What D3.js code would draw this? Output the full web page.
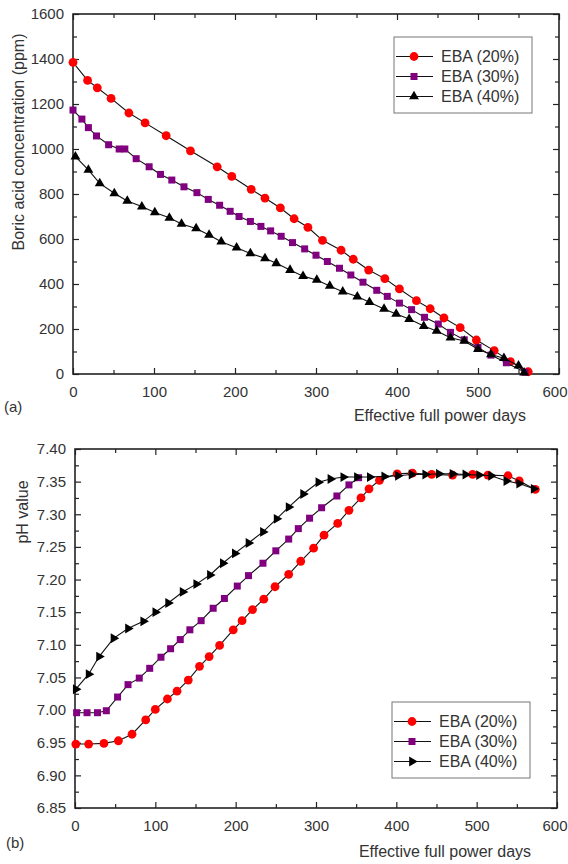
<!DOCTYPE html>
<html>
<head>
<meta charset="utf-8">
<script src="https://cdn.jsdelivr.net/npm/d3@7"></script>
<style>
  body { margin: 0; background: #fff; }
  svg text { font-family: "Liberation Sans", Arial, sans-serif; fill: #333; }
</style>
</head>
<body>
<div id="chart"></div>
<script>
// Panel (a): boric acid concentration vs EFPD
var daysA20 = [0,18,30,47,69,89,115,145,178,196,220,237,256,273,290,308,331,346,365,385,403,424,441,458,478,498,520,540,562];
var boronA20 = [1385,1305,1272,1225,1160,1116,1059,992,921,878,821,782,738,690,652,594,550,510,462,424,378,326,290,249,206,151,104,55,10];
var daysA30 = [0,11,19,29,44,57,64,78,94,108,122,137,153,167,181,194,205,219,232,244,257,271,286,300,314,329,343,358,375,388,403,418,434,451,466,483,500,516,535,558];
var boronA30 = [1173,1133,1095,1058,1019,1000,1000,957,921,887,862,832,806,776,750,723,700,678,656,636,612,584,556,528,500,470,440,408,372,345,315,286,252,222,185,152,118,84,50,8];
var daysA40 = [3,19,33,51,67,85,101,119,134,152,168,183,202,219,237,251,268,284,301,317,333,351,366,384,399,415,433,449,466,483,500,516,532,550,557];
var boronA40 = [966,907,847,803,769,744,718,694,667,647,618,588,561,536,514,492,462,435,418,391,366,344,319,289,267,244,213,191,161,147,110,87,70,37,6];

// Panel (b): pH vs EFPD
var daysB20 = [1,17,36,54,71,88,100,115,127,141,155,167,180,197,208,221,235,249,266,281,297,310,327,341,356,366,379,401,420,444,470,495,514,539,553,573];
var phB20 = [6.948,6.948,6.949,6.953,6.963,6.985,7.001,7.017,7.029,7.046,7.067,7.082,7.099,7.123,7.137,7.154,7.170,7.189,7.208,7.228,7.248,7.268,7.286,7.306,7.325,7.339,7.352,7.362,7.363,7.361,7.360,7.361,7.360,7.359,7.351,7.338];
var daysB30 = [2,15,28,39,53,66,80,93,107,119,131,143,157,172,186,202,216,234,250,266,278,292,307,326,341,353];
var phB30 = [6.996,6.996,6.996,6.999,7.020,7.039,7.049,7.064,7.081,7.094,7.108,7.123,7.137,7.156,7.171,7.190,7.206,7.225,7.244,7.262,7.278,7.294,7.310,7.328,7.345,7.356];
var daysB40 = [1,17,30,48,66,85,100,116,134,151,168,184,199,216,234,251,266,284,303,318,334,351,367,385,402,419,436,453,470,486,503,518,537,553,571];
var phB40 = [7.032,7.055,7.082,7.110,7.125,7.136,7.150,7.164,7.181,7.193,7.207,7.225,7.240,7.256,7.273,7.293,7.311,7.331,7.349,7.354,7.357,7.357,7.357,7.358,7.359,7.361,7.361,7.362,7.362,7.361,7.360,7.359,7.351,7.347,7.339];

var seriesNames = ["EBA (20%)", "EBA (30%)", "EBA (40%)"];
var xTicks = [0,100,200,300,400,500,600];
var yTicksA = [0,200,400,600,800,1000,1200,1400,1600];
var yTicksB = [6.85,6.90,6.95,7.00,7.05,7.10,7.15,7.20,7.25,7.30,7.35,7.40];

var svg = d3.select("#chart").append("svg")
    .attr("width", 568)
    .attr("height", 864);

function marker(g, type, color) {
  if (type == "circle") {
    g.append("circle").attr("r", 4.4).attr("fill", color);
  } else if (type == "square") {
    g.append("rect").attr("x", -3.5).attr("y", -3.5).attr("width", 7).attr("height", 7).attr("fill", color);
  } else {
    g.append("path")
      .attr("d", d3.symbol().type(d3.symbolTriangle).size(42))
      .attr("transform", type == "tri-right" ? "rotate(90)" : null)
      .attr("fill", color);
  }
}

function drawPanel(p) {
  var x = d3.scaleLinear().domain([0, 600]).range([p.left, p.right]);
  var y = d3.scaleLinear().domain(p.yDomain).range([p.bottom, p.top]);
  var g = svg.append("g");

  // minor ticks
  var xMinor = d3.range(50, 600, 100);
  var yMinor = p.yMinor;
  g.append("g").attr("transform", "translate(0," + p.bottom + ")")
    .call(d3.axisBottom(x).tickValues(xMinor).tickSize(-4).tickFormat(""));
  g.append("g").attr("transform", "translate(0," + p.top + ")")
    .call(d3.axisTop(x).tickValues(xMinor).tickSize(-4).tickFormat(""));
  g.append("g").attr("transform", "translate(" + p.left + ",0)")
    .call(d3.axisLeft(y).tickValues(yMinor).tickSize(-4).tickFormat(""));
  g.append("g").attr("transform", "translate(" + p.right + ",0)")
    .call(d3.axisRight(y).tickValues(yMinor).tickSize(-4).tickFormat(""));

  // major ticks
  g.append("g").attr("class", "xa").attr("transform", "translate(0," + p.bottom + ")")
    .call(d3.axisBottom(x).tickValues(xTicks).tickSize(-6).tickPadding(12).tickFormat(d3.format("d")));
  g.append("g").attr("transform", "translate(0," + p.top + ")")
    .call(d3.axisTop(x).tickValues(xTicks).tickSize(-6).tickFormat(""));
  g.append("g").attr("class", "ya").attr("transform", "translate(" + p.left + ",0)")
    .call(d3.axisLeft(y).tickValues(p.yTicks).tickSize(-6).tickPadding(9).tickFormat(p.yFormat));
  g.append("g").attr("transform", "translate(" + p.right + ",0)")
    .call(d3.axisRight(y).tickValues(p.yTicks).tickSize(-6).tickFormat(""));

  g.selectAll(".domain").remove();
  g.selectAll(".tick line").attr("stroke", "#222").attr("stroke-width", 1.2);
  g.selectAll(".xa text, .ya text").style("font-size", "15px").attr("fill", "#333");
  // last x label sits inside the page edge, like the original
  g.selectAll(".xa .tick text").filter(function(d) { return d == 600; })
    .attr("text-anchor", "end").attr("x", 567 - p.right);

  g.append("rect")
    .attr("x", p.left).attr("y", p.top)
    .attr("width", p.right - p.left).attr("height", p.bottom - p.top)
    .attr("fill", "none").attr("stroke", "#222").attr("stroke-width", 1.6);

  var line = d3.line().x(function(d) { return x(d[0]); }).y(function(d) { return y(d[1]); });

  p.series.forEach(function(s) {
    var pts = d3.zip(s.x, s.y);
    g.append("path").datum(pts)
      .attr("d", line)
      .attr("fill", "none")
      .attr("stroke", "#111")
      .attr("stroke-width", 1.1);
    g.selectAll(null).data(pts).enter().append("g")
      .attr("transform", function(d) { return "translate(" + x(d[0]) + "," + y(d[1]) + ")"; })
      .each(function() { marker(d3.select(this), s.marker, s.color); });
  });

  // legend
  var lg = g.append("g").attr("transform", "translate(" + p.legend[0] + "," + p.legend[1] + ")");
  lg.append("rect").attr("width", 138).attr("height", 76)
    .attr("fill", "#fff").attr("stroke", "#777").attr("stroke-width", 1);
  p.series.forEach(function(s, i) {
    var row = lg.append("g").attr("transform", "translate(0," + (19.5 + i * 20) + ")");
    row.append("line").attr("x1", 2).attr("x2", 39).attr("stroke", "#111").attr("stroke-width", 1.2);
    var m = row.append("g").attr("transform", "translate(20,0)");
    marker(m, s.marker, s.color);
    row.append("text").attr("x", 47).attr("y", 5.5).style("font-size", "16px").text(seriesNames[i]);
  });

  // titles
  g.append("text")
    .attr("transform", "translate(" + p.yTitlePos[0] + "," + p.yTitlePos[1] + ") rotate(-90)")
    .attr("text-anchor", "middle")
    .style("font-size", "16px")
    .text(p.yTitle);
  g.append("text")
    .attr("x", p.xTitlePos[0]).attr("y", p.xTitlePos[1])
    .attr("text-anchor", "middle")
    .style("font-size", "16px")
    .text("Effective full power days");
  g.append("text")
    .attr("x", p.tag[0]).attr("y", p.tag[1])
    .style("font-size", "15px")
    .text(p.tagText);
}

drawPanel({
  left: 73, right: 559, top: 14, bottom: 374,
  yDomain: [0, 1600],
  yTicks: yTicksA,
  yMinor: d3.range(100, 1600, 200),
  yFormat: d3.format("d"),
  series: [
    { x: daysA20, y: boronA20, marker: "circle", color: "#ff0000" },
    { x: daysA30, y: boronA30, marker: "square", color: "#800080" },
    { x: daysA40, y: boronA40, marker: "tri-up", color: "#000" }
  ],
  legend: [394, 37],
  yTitle: "Boric acid concentration (ppm)",
  yTitlePos: [24, 142],
  xTitlePos: [440, 421],
  tag: [4, 412],
  tagText: "(a)"
});

drawPanel({
  left: 75, right: 557, top: 449, bottom: 808,
  yDomain: [6.85, 7.40],
  yTicks: yTicksB,
  yMinor: d3.range(0, 11).map(function(i) { return 6.875 + i * 0.05; }),
  yFormat: d3.format(".2f"),
  series: [
    { x: daysB20, y: phB20, marker: "circle", color: "#ff0000" },
    { x: daysB30, y: phB30, marker: "square", color: "#800080" },
    { x: daysB40, y: phB40, marker: "tri-right", color: "#000" }
  ],
  legend: [392, 702],
  yTitle: "pH value",
  yTitlePos: [28, 512],
  xTitlePos: [445, 857],
  tag: [6, 848],
  tagText: "(b)"
});
</script>
</body>
</html>
